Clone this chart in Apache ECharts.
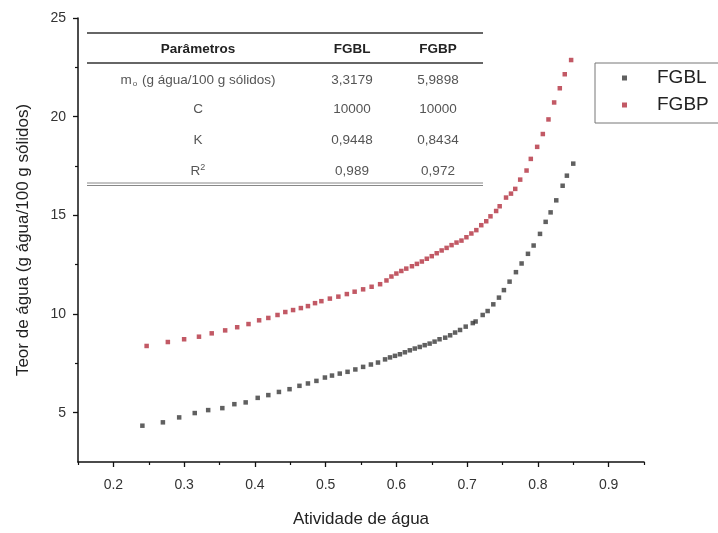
<!DOCTYPE html>
<html><head><meta charset="utf-8">
<script src="https://cdn.jsdelivr.net/npm/echarts@6/dist/echarts.min.js"></script>
<style>html,body{margin:0;padding:0;background:#fff}#c{width:718px;height:533px}</style>
</head><body><div id="c"></div>
<script>
const fgblAw = [0.241,0.270,0.293,0.315,0.334,0.354,0.371,0.387,0.404,0.419,0.434,0.449,0.463,0.475,0.487,0.499,0.509,0.520,0.531,0.542,0.553,0.564,0.574,0.584,0.591,0.598,0.605,0.612,0.619,0.626,0.633,0.640,0.647,0.654,0.661,0.669,0.676,0.683,0.690,0.698,0.708,0.712,0.722,0.729,0.737,0.745,0.752,0.760,0.769,0.777,0.786,0.794,0.803,0.811,0.818,0.826,0.835,0.841,0.850];
const fgblM  = [4.34,4.51,4.76,4.98,5.13,5.23,5.43,5.52,5.75,5.89,6.05,6.19,6.36,6.48,6.61,6.78,6.88,6.98,7.07,7.19,7.32,7.44,7.54,7.70,7.80,7.88,7.96,8.06,8.16,8.25,8.33,8.42,8.50,8.60,8.72,8.80,8.92,9.06,9.19,9.36,9.54,9.62,9.95,10.15,10.49,10.83,11.21,11.64,12.12,12.56,13.05,13.47,14.06,14.67,15.15,15.76,16.50,17.01,17.62];
const fgbpAw = [0.247,0.277,0.300,0.321,0.339,0.358,0.375,0.391,0.406,0.419,0.432,0.443,0.454,0.465,0.475,0.485,0.494,0.506,0.518,0.530,0.541,0.553,0.565,0.577,0.586,0.593,0.600,0.607,0.614,0.622,0.629,0.636,0.643,0.650,0.657,0.664,0.671,0.678,0.685,0.692,0.699,0.706,0.713,0.720,0.727,0.733,0.741,0.746,0.755,0.762,0.768,0.775,0.784,0.790,0.799,0.807,0.815,0.823,0.831,0.838,0.847];
const fgbpM  = [8.38,8.58,8.72,8.85,9.02,9.17,9.33,9.49,9.68,9.80,9.95,10.10,10.20,10.30,10.40,10.55,10.65,10.78,10.88,11.01,11.13,11.25,11.38,11.51,11.70,11.90,12.05,12.18,12.30,12.42,12.54,12.66,12.80,12.93,13.08,13.22,13.35,13.49,13.62,13.72,13.89,14.08,14.25,14.50,14.70,14.95,15.22,15.46,15.90,16.10,16.34,16.81,17.27,17.86,18.47,19.12,19.86,20.72,21.44,22.15,22.87];
const xTicks = [0.2,0.3,0.4,0.5,0.6,0.7,0.8,0.9];
const xMinorTicks = [0.15,0.25,0.35,0.45,0.55,0.65,0.75,0.85,0.95];
const yTicks = [5,10,15,20,25];
const yMinorTicks = [7.5,12.5,17.5,22.5];
const seriesNames = ['FGBL','FGBP'];
const tableHeader = ['Parâmetros','FGBL','FGBP'];
const tableParams = ['{a|m}{s|o}{a| (g água/100 g sólidos)}','C','K','R{p|2}'];
const tableFGBL = ['3,3179','10000','0,9448','0,989'];
const tableFGBP = ['5,9898','10000','0,8434','0,972'];

const FONT = "'Liberation Sans', Arial, sans-serif";
const chart = echarts.init(document.getElementById('c'));

const colX = [198, 352, 438];
const headerY = 49;
const rowY = [80, 109, 140, 171];
const graphics = [];
graphics.push({type:'line', shape:{x1:87,y1:33,x2:483,y2:33}, style:{stroke:'#333',lineWidth:1.3}});
graphics.push({type:'line', shape:{x1:87,y1:63,x2:483,y2:63}, style:{stroke:'#333',lineWidth:1.3}});
graphics.push({type:'line', shape:{x1:87,y1:183,x2:483,y2:183}, style:{stroke:'#888',lineWidth:1}});
graphics.push({type:'line', shape:{x1:87,y1:185.5,x2:483,y2:185.5}, style:{stroke:'#888',lineWidth:1}});
tableHeader.forEach((t,i)=>graphics.push({type:'text', x:colX[i], y:headerY, style:{text:t, align:'center', verticalAlign:'middle', fontFamily:FONT, fontSize:13.5, fontWeight:'bold', fill:'#222'}}));
tableParams.forEach((t,i)=>graphics.push({type:'text', x:colX[0], y:rowY[i], style:{text:t, align:'center', verticalAlign:'middle', fontFamily:FONT, fontSize:13.5, fill:'#555',
  rich:{a:{fontFamily:FONT,fontSize:13.5,fill:'#555'}, s:{fontFamily:FONT,fontSize:8,fill:'#555',padding:[7,1,0,1]}, p:{fontFamily:FONT,fontSize:9,fill:'#555',padding:[0,0,6,0]}}}}));
tableFGBL.forEach((t,i)=>graphics.push({type:'text', x:colX[1], y:rowY[i], style:{text:t, align:'center', verticalAlign:'middle', fontFamily:FONT, fontSize:13.5, fill:'#555'}}));
tableFGBP.forEach((t,i)=>graphics.push({type:'text', x:colX[2], y:rowY[i], style:{text:t, align:'center', verticalAlign:'middle', fontFamily:FONT, fontSize:13.5, fill:'#555'}}));
graphics.push({type:'rect', shape:{x:595,y:63,width:140,height:60}, style:{stroke:'#777',fill:'none',lineWidth:1}});

chart.setOption({
  animation:false,
  backgroundColor:'#fff',
  textStyle:{fontFamily:FONT},
  grid:{left:78,right:74,top:18,bottom:70},
  legend:{
    data:seriesNames, orient:'vertical', left:622, top:68, padding:0,
    itemWidth:5, itemHeight:5, itemGap:7,
    textStyle:{fontFamily:FONT, fontSize:19, color:'#222', lineHeight:20, padding:[0,0,0,25]}
  },
  xAxis:[{
    type:'value', min:0.15, max:0.95, position:'bottom',
    name:'Atividade de água', nameLocation:'middle', nameGap:49,
    nameTextStyle:{fontFamily:FONT, fontSize:17, color:'#222'},
    axisLine:{show:true, onZero:false, lineStyle:{color:'#111', width:1.5}},
    axisTick:{show:true, inside:false, length:5, customValues:xTicks, lineStyle:{color:'#111', width:1.3}},
    axisLabel:{customValues:xTicks, margin:16, fontFamily:FONT, fontSize:14, color:'#333', formatter:v=>v.toFixed(1)},
    splitLine:{show:false}
  },{
    type:'value', min:0.15, max:0.95, position:'bottom', offset:0,
    axisLine:{show:false},
    axisTick:{show:true, inside:false, length:3, customValues:xMinorTicks, lineStyle:{color:'#111', width:1.2}},
    axisLabel:{show:false}, splitLine:{show:false}
  }],
  yAxis:[{
    type:'value', min:2.5, max:25, position:'left',
    name:'Teor de água (g água/100 g sólidos)', nameLocation:'middle', nameGap:46,
    nameTextStyle:{fontFamily:FONT, fontSize:17, color:'#222'},
    axisLine:{show:true, onZero:false, lineStyle:{color:'#111', width:1.5}},
    axisTick:{show:true, inside:false, length:5, customValues:yTicks, lineStyle:{color:'#111', width:1.3}},
    axisLabel:{customValues:yTicks, margin:12, fontFamily:FONT, fontSize:14, color:'#333'},
    splitLine:{show:false}
  },{
    type:'value', min:2.5, max:25, position:'left', offset:0,
    axisLine:{show:false},
    axisTick:{show:true, inside:false, length:3, customValues:yMinorTicks, lineStyle:{color:'#111', width:1.2}},
    axisLabel:{show:false}, splitLine:{show:false}
  }],
  series:[{
    name:seriesNames[0], type:'scatter', symbol:'rect', symbolSize:4.5,
    itemStyle:{color:'#383838'},
    data:fgblAw.map((x,i)=>[x,fgblM[i]])
  },{
    name:seriesNames[1], type:'scatter', symbol:'rect', symbolSize:4.5,
    itemStyle:{color:'#b3303f'},
    data:fgbpAw.map((x,i)=>[x,fgbpM[i]])
  }],
  graphic:graphics
});
</script></body></html>
